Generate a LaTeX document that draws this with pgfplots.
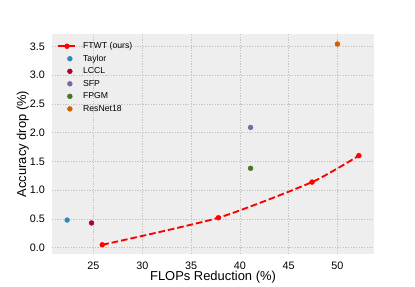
\documentclass[border=0pt]{standalone}
\usepackage{fontspec}
\setmainfont{Liberation Sans}
\usepackage{pgfplots}
\pgfplotsset{compat=1.18}
\definecolor{bgc}{HTML}{EEEEEE}
\definecolor{gridc}{HTML}{C4C4C4}
\definecolor{cTaylor}{HTML}{348ABD}
\definecolor{cLCCL}{HTML}{A60628}
\definecolor{cSFP}{HTML}{7A68A6}
\definecolor{cFPGM}{HTML}{467821}
\definecolor{cRes}{HTML}{D55E00}
\pgfplotsset{shortlegend/.style={legend image code/.code={\draw[mark repeat=2, mark phase=2, ##1] plot coordinates {(0pt,0pt) (6.4pt,0pt) (12.8pt,0pt)};}}}
\begin{document}
\begin{tikzpicture}
\begin{axis}[
  name=ax,
  width=241.5pt, height=165pt, scale only axis,
  xmin=20.75, xmax=53.75, ymin=-0.11, ymax=3.714,
  axis background/.style={fill=bgc},
  axis line style={draw=none},
  tick style={draw=none},
  xtick={25,30,35,40,45,50},
  ytick={0,0.5,1,1.5,2,2.5,3,3.5},
  /pgf/number format/assume math mode=true,
  xticklabel style={font=\fontsize{8.1}{9.5}\selectfont, yshift=-2.2pt},
  yticklabel style={font=\fontsize{8.1}{9.5}\selectfont, xshift=-1.8pt,
    /pgf/number format/fixed, /pgf/number format/fixed zerofill, /pgf/number format/precision=1},
  grid=major,
  major grid style={color=gridc, dash pattern=on 1pt off 1pt, line width=0.5pt},
  xlabel={FLOPs Reduction (\%)},
  ylabel={Accuracy drop (\%)},
  xlabel style={font=\fontsize{9.7}{11}\selectfont, at={(axis description cs:0.5,-0.1212)}, anchor=base},
  ylabel style={font=\fontsize{9.7}{11}\selectfont, at={(axis description cs:-0.0807,0.5)}, anchor=base},
  legend style={at={(axis description cs:0.004,0.979)}, anchor=north west, draw=none, fill=none,
    font=\fontsize{6.5}{7.5}\selectfont, row sep=2.4pt, column sep=4.5pt,
    nodes={text height=4.7pt, text depth=1.3pt, inner sep=0.5pt}},
  legend cell align=left,
  clip=false,
]
\addplot[color=red, line width=1.4pt, dash pattern=on 5pt off 2.2pt, smooth, tension=0.35,
  mark=*, mark size=1.8pt, mark options={solid, fill=red, draw=red, line width=0.4pt}, shortlegend]
  coordinates {(25.9,0.05) (37.8,0.52) (47.4,1.14) (52.2,1.60)};
\addlegendentry{FTWT (ours)}
\addplot[only marks, mark=*, mark size=1.8pt, color=cTaylor, mark options={fill=cTaylor, draw=cTaylor}]
  coordinates {(22.3,0.48)};
\addlegendentry{Taylor}
\addplot[only marks, mark=*, mark size=1.8pt, color=cLCCL, mark options={fill=cLCCL, draw=cLCCL}]
  coordinates {(24.8,0.43)};
\addlegendentry{LCCL}
\addplot[only marks, mark=*, mark size=1.8pt, color=cSFP, mark options={fill=cSFP, draw=cSFP}]
  coordinates {(41.1,2.09)};
\addlegendentry{SFP}
\addplot[only marks, mark=*, mark size=1.8pt, color=cFPGM, mark options={fill=cFPGM, draw=cFPGM}]
  coordinates {(41.1,1.38)};
\addlegendentry{FPGM}
\addplot[only marks, mark=*, mark size=1.8pt, color=cRes, mark options={fill=cRes, draw=cRes}]
  coordinates {(50.0,3.54)};
\addlegendentry{ResNet18}
\end{axis}
\pgfresetboundingbox
\path ([xshift=-39pt,yshift=-24pt]ax.south west) rectangle ([xshift=30.75pt,yshift=25.5pt]ax.north east);
\end{tikzpicture}
\end{document}
